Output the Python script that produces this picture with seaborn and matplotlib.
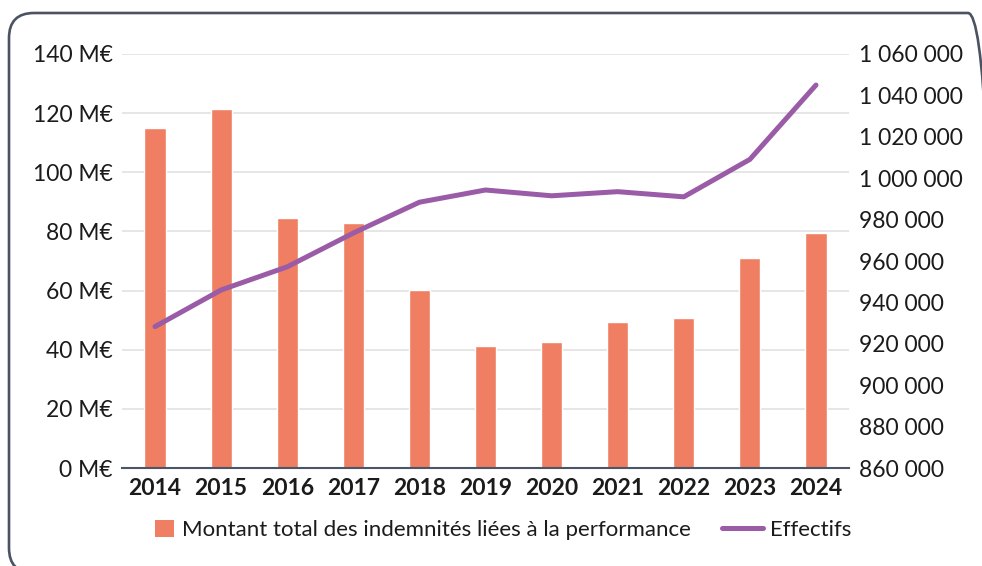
import numpy as np
import pandas as pd
import seaborn as sns
import matplotlib
matplotlib.use("Agg")
import matplotlib.pyplot as plt
import matplotlib.transforms as mtransforms
from matplotlib.patches import FancyBboxPatch, Patch
from matplotlib.lines import Line2D

# data
years = ["2014", "2015", "2016", "2017", "2018", "2019", "2020", "2021", "2022", "2023", "2024"]
montant = [115.0, 121.3, 84.5, 83.0, 60.1, 41.1, 42.6, 49.5, 50.7, 71.1, 79.5]  # M€
effectifs = [928300, 946000, 957200, 973500, 988400, 994300, 991500, 993500, 991000, 1009100, 1045000]

left_ticks = [0, 20, 40, 60, 80, 100, 120, 140]
right_ticks = [860000, 880000, 900000, 920000, 940000, 960000, 980000,
               1000000, 1020000, 1040000, 1060000]

bar_label = "Montant total des indemnités liées à la performance"
line_label = "Effectifs"

bar_color = "#EF7E62"
line_color = "#9A5BA7"
text_color = "#1b1b1b"

sns.set_theme(style="white")
plt.rcParams["font.family"] = ["Lato", "DejaVu Sans"]

df = pd.DataFrame({"annee": years, "montant": montant, "effectifs": effectifs})

fig = plt.figure(figsize=(9.82, 5.66), dpi=100)
ax = fig.add_axes([0.1242, 0.1731, 0.7404, 0.7315])

sns.barplot(data=df, x="annee", y="montant", color=bar_color, width=0.32,
            saturation=1, ax=ax, zorder=2)
ax.set_xlim(-0.5, len(years) - 0.5)
ax.set_ylim(0, 140)
ax.set_yticks(left_ticks)
ax.set_yticklabels([f"{v} M€" for v in left_ticks])
ax.yaxis.grid(True, color="#e2e2e2", linewidth=1.2, zorder=0)
ax.set_axisbelow(True)
ax.set_xlabel("")
ax.set_ylabel("")
for s in ["top", "right", "left"]:
    ax.spines[s].set_visible(False)
ax.spines["bottom"].set_color("#4b5568")
ax.spines["bottom"].set_linewidth(1.5)
ax.tick_params(axis="y", length=0, pad=6.5, labelsize=16.5, labelcolor=text_color)
ax.tick_params(axis="x", length=0, pad=7, labelsize=16.5, labelcolor=text_color)
for t in ax.get_xticklabels():
    t.set_fontweight("bold")

ax2 = ax.twinx()
sns.lineplot(data=df, x="annee", y="effectifs", color=line_color, linewidth=3.6,
             sort=False, ax=ax2, solid_capstyle="round")
ax2.set_ylim(860000, 1060000)
ax2.set_yticks(right_ticks)
ax2.set_yticklabels([f"{v:,}".replace(",", " ") for v in right_ticks])
ax2.set_ylabel("")
for s in ["top", "right", "left", "bottom"]:
    ax2.spines[s].set_visible(False)
ax2.tick_params(axis="y", length=0, pad=7.5, labelsize=16.5, labelcolor=text_color)

# legend, two pieces so the patch stays square
leg1 = fig.legend(handles=[Patch(facecolor=bar_color, edgecolor="none")], labels=[bar_label],
                  loc="center left", bbox_to_anchor=(0.158, 0.0636), frameon=False,
                  borderpad=0, borderaxespad=0,
                  handlelength=0.85, handleheight=0.85, handletextpad=0.35,
                  prop={"size": 16}, labelcolor=text_color)
leg2 = fig.legend(handles=[Line2D([], [], color=line_color, linewidth=3.6, solid_capstyle="round")],
                  labels=[line_label], loc="center left", bbox_to_anchor=(0.735, 0.0636),
                  frameon=False, borderpad=0, borderaxespad=0,
                  handlelength=1.85, handletextpad=0.3,
                  prop={"size": 16}, labelcolor=text_color)

# rounded frame around the chart
frame = FancyBboxPatch((9, -7), 984, 560, boxstyle="round,pad=0,rounding_size=25",
                       transform=mtransforms.IdentityTransform(),
                       facecolor="none", edgecolor="#4b5363", linewidth=1.9)
fig.add_artist(frame)

fig.savefig("out.png", dpi=100)
